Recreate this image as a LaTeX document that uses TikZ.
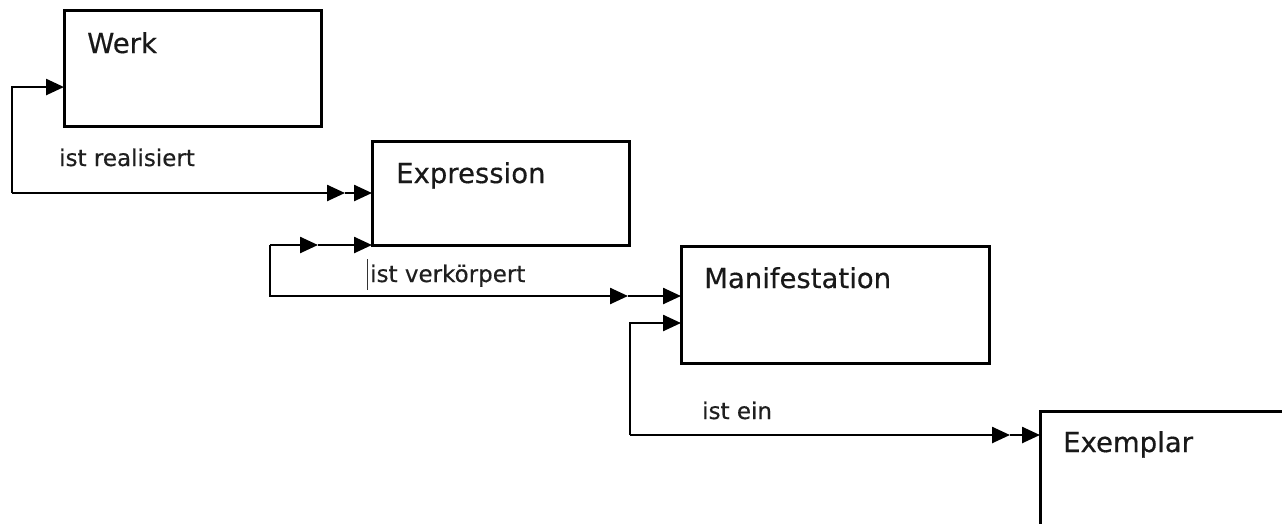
\documentclass[tikz,border=0pt]{standalone}
\usepackage{fontspec}
\setmainfont{DejaVu Sans}
\newfontfamily\medfont{DejaVu Sans}[FakeBold=0.4]
\usetikzlibrary{arrows.meta,calc}
\tikzset{
  box/.style={draw=black, line width=3pt, fill=none, inner sep=0pt, outer sep=0pt, anchor=north west},
  title/.style={anchor=base west, inner sep=0pt, text=black!90, font=\medfont\fontsize{27.5}{30}\selectfont},
  rel/.style={anchor=base west, inner sep=0pt, text=black!88, font=\medfont\fontsize{23}{26}\selectfont},
  conn/.style={draw=black, line width=2.5pt, -{Triangle[length=18pt 0,width=16pt 0]}},
}
\begin{document}
\begin{tikzpicture}[x=1pt,y=-1pt]
\useasboundingbox (0,0) rectangle (1282,523);
\clip (0,0) rectangle (1282,523);
\fill[white] (0,0) rectangle (1282,523);

% boxes
\node[box, minimum width=257pt, minimum height=116pt] (werk) at (64,10) {};
\node[box, minimum width=257pt, minimum height=104pt] (expr) at (372,141) {};
\node[box, minimum width=308pt, minimum height=117pt] (manif) at (681,246) {};
\node[box, minimum width=400pt, minimum height=200pt] (exem) at (1040,411) {};

% titles
\node[title] (werkT) at (87,53) {Werk};
\node[title] (exprT) at (396,183) {Expression};
\node[title] (manifT) at (704,288) {Manifestation};
\node[title] (exemT) at (1063,452) {Exemplar};

% relation labels
\node[rel] (l1) at (59,166) {ist realisiert};
\node[rel] (l2) at (370,282) {ist verkörpert};
\node[rel] (l3) at (702,419) {ist ein};
\draw[line width=0.9pt, black!80] (367.5,259) -- (367.5,290);

% ist realisiert
\coordinate (r0) at (12,193);
\coordinate (r1) at (345,193);
\draw[conn] (r0) |- ($(werk.north west)!0.664!(werk.south west)$);
\draw[conn] (r0) -- (r1);
\draw[conn] (r1) -- (expr.west |- r1);

% ist verkoerpert
\coordinate (v0) at (270,245);
\coordinate (v1) at (318,245);
\coordinate (v2) at (628,296);
\draw[conn] (v0) -- (v1);
\draw[conn] (v1) -- (expr.south west);
\draw[conn] (v0) |- (v2);
\draw[conn] (v2) -- (manif.west |- v2);

% ist ein
\coordinate (e0) at (630,435);
\coordinate (e1) at (1010,435);
\coordinate (e2) at (681,323);
\draw[conn] (e0) |- (e2);
\draw[conn] (e0) -- (e1);
\draw[conn] (e1) -- (exem.west |- e1);
\end{tikzpicture}
\end{document}
